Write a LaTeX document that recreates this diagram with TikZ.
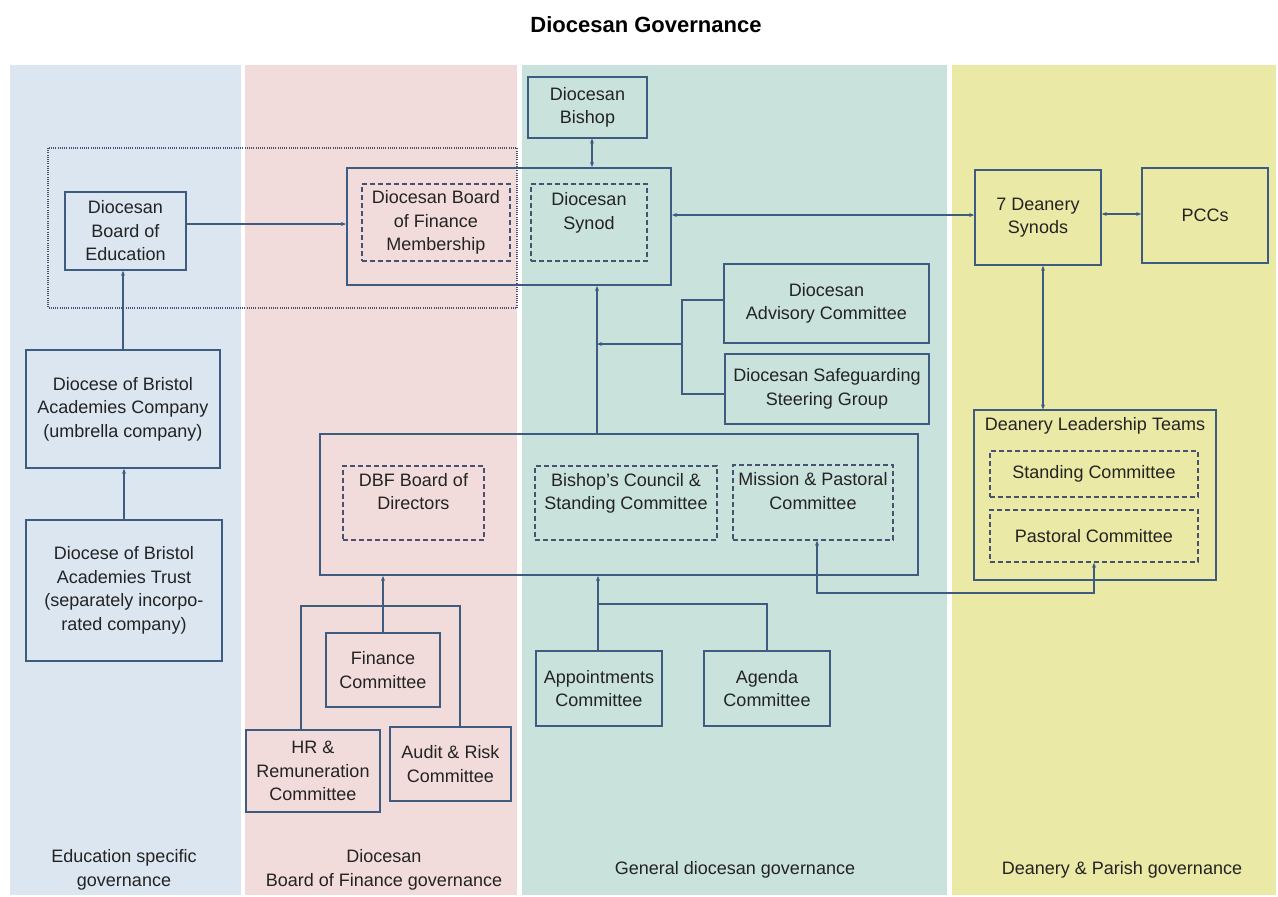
\documentclass[tikz,border=0pt]{standalone}
\usepackage{fontspec}
\setmainfont{Liberation Sans}
\usetikzlibrary{arrows.meta}

\definecolor{edublue}{RGB}{220,230,241}
\definecolor{dbfpink}{RGB}{242,220,219}
\definecolor{genteal}{RGB}{201,227,220}
\definecolor{deanyellow}{RGB}{235,233,166}
\definecolor{lineblue}{RGB}{62,92,130}
\definecolor{dashblue}{RGB}{70,82,112}
\definecolor{textgray}{RGB}{35,35,35}

\newcommand\boxfont{\fontsize{18}{23.5}\selectfont}

\begin{document}
\begin{tikzpicture}[x=1pt,y=1pt,yscale=-1,
  box/.style={draw=lineblue,line width=1.6pt,align=center,inner sep=0pt,text=textgray,font=\boxfont},
  dashbox/.style={box,draw=dashblue,line width=1.5pt,dash pattern=on 5pt off 3pt},
  caption/.style={align=center,inner sep=0pt,text=textgray,font=\boxfont},
  link/.style={draw=lineblue,line width=1.2pt},
  >={Stealth[length=5pt,width=4pt]}]
\useasboundingbox (0,0) rectangle (1278,897);

%Shape: Column panels
\fill[edublue] (10,65) rectangle (241,895);
\fill[dbfpink] (245,65) rectangle (517,895);
\fill[genteal] (522,65) rectangle (947,895);
\fill[deanyellow] (952,65) rectangle (1276,895);

% Text Node
\node[font=\fontsize{22}{26}\selectfont\bfseries,text=black] (title) at (646,25) {Diocesan Governance};

%Shape: Dotted group
\draw[dashblue,line width=1.3pt,dash pattern=on 1pt off 1.2pt] (48,148) rectangle (517,308);

%Shape: Synod boxes
\node[box,line width=1.2pt,minimum width=119pt,minimum height=61pt] (bishop) at (587.5,107.5) {Diocesan\\Bishop};
\node[box,line width=2pt,minimum width=324pt,minimum height=117pt] (synodgrp) at (509,226.5) {};
\node[dashbox,minimum width=148pt,minimum height=77pt] (dbfmem) at (436,222.5) {Diocesan Board\\of Finance\\Membership};
\node[dashbox,minimum width=116pt,minimum height=77pt] (synod) at (589,222.5) {Diocesan\\Synod\\~};

%Shape: Education boxes
\node[box,minimum width=121pt,minimum height=78pt] (dbe) at (125.5,231) {Diocesan\\Board of\\Education};
\node[box,minimum width=194pt,minimum height=118pt] (dbac) at (123,409) {Diocese of Bristol\\Academies Company\\(umbrella company)};
\node[box,minimum width=196pt,minimum height=141pt] (dbat) at (124,590.5) {Diocese of Bristol\\Academies Trust\\(separately incorpo-\\rated company)};

%Shape: Deanery boxes
\node[box,minimum width=126pt,minimum height=95pt] (deanery) at (1038,217.5) {7 Deanery\\Synods};
\node[box,minimum width=126pt,minimum height=95pt] (pccs) at (1205,215.5) {PCCs};
\node[box,line width=1.2pt,minimum width=242pt,minimum height=170pt] (dlt) at (1095,495) {};
\node[caption] (dlttitle) at (1095,426) {Deanery Leadership Teams};
\node[dashbox,minimum width=208pt,minimum height=46pt] (stc) at (1094,474) {Standing Committee};
\node[dashbox,minimum width=208pt,minimum height=52pt] (pac) at (1094,536) {Pastoral Committee};

%Shape: Committees
\node[box,minimum width=205pt,minimum height=79pt] (dac) at (826.5,303.5) {Diocesan\\Advisory Committee};
\node[box,minimum width=204pt,minimum height=70pt] (dssg) at (827,389) {Diocesan Safeguarding\\Steering Group};
\node[box,line width=2pt,minimum width=598pt,minimum height=141pt] (council) at (619,504.5) {};
\node[dashbox,minimum width=141pt,minimum height=74pt] (dbfdir) at (413.5,503) {DBF Board of\\Directors\\~};
\node[dashbox,minimum width=182pt,minimum height=74pt] (bcsc) at (626,503) {Bishop’s Council \&\\Standing Committee\\~};
\node[dashbox,minimum width=160pt,minimum height=75pt] (mpc) at (813,502.5) {Mission \& Pastoral\\Committee\\~};
\node[box,line width=1.4pt,minimum width=114pt,minimum height=74pt] (finc) at (383,670) {Finance\\Committee};
\node[box,line width=1.4pt,minimum width=134pt,minimum height=82pt] (hrc) at (313,771) {HR \&\\Remuneration\\Committee};
\node[box,line width=1.4pt,minimum width=121pt,minimum height=74pt] (arc) at (450.5,764) {Audit \& Risk\\Committee};
\node[box,minimum width=126pt,minimum height=75pt] (appc) at (599,688.5) {Appointments\\Committee};
\node[box,minimum width=126pt,minimum height=75pt] (agc) at (767,688.5) {Agenda\\Committee};

%Coordinates for connectors
\coordinate (edurow) at (0,224);
\coordinate (synrow) at (0,215);
\coordinate (pccrow) at (0,214);
\coordinate (dltcol) at (1043,0);
\coordinate (bishcol) at (592,0);
\coordinate (trunk) at (597,0);
\coordinate (brk) at (682,344);
\coordinate (dacrow) at (0,300);
\coordinate (dssgrow) at (0,394);
\coordinate (fbar) at (383,606);
\coordinate (hrcol) at (301,0);
\coordinate (arcol) at (460,0);
\coordinate (abar) at (598,604);
\coordinate (mpcol) at (817,0);
\coordinate (mprow) at (0,593);

%Straight Lines
\draw[link,<->] (bishcol |- bishop.south) -- (bishcol |- synodgrp.north);
\draw[link,->] (dbe.east |- edurow) -- (synodgrp.west |- edurow);
\draw[link,->] (dbac.north) -- (dbac.north |- dbe.south);
\draw[link,->] (dbat.north) -- (dbat.north |- dbac.south);
\draw[link,<->] (synodgrp.east |- synrow) -- (deanery.west |- synrow);
\draw[link,<->] (deanery.east |- pccrow) -- (pccs.west |- pccrow);
\draw[link,<->] (dltcol |- deanery.south) -- (dltcol |- dlt.north);
\draw[link,->] (trunk |- council.north) -- (trunk |- synodgrp.south);
\draw[link] (dac.west |- dacrow) -| (brk) |- (dssg.west |- dssgrow);
\draw[link,->] (brk) -- (brk -| trunk);
\draw[link,->] (finc.north) -- (finc.north |- council.south);
\draw[link] (hrcol |- hrc.north) |- (fbar) -| (arcol |- arc.north);
\draw[link,->] (abar |- appc.north) -- (abar |- council.south);
\draw[link] (abar) -| (agc.north);
\draw[link,<->] (mpcol |- mpc.south) |- (mprow -| pac.south) -- (pac.south);

% Text Node
\node[caption] (edulab) at (124,870) {Education specific\\governance};
\node[caption] (dbflab) at (384,870) {Diocesan\\Board of Finance governance};
\node[caption] (genlab) at (735,870) {General diocesan governance};
\node[caption] (deanlab) at (1122,870) {Deanery \& Parish governance};

\end{tikzpicture}
\end{document}
